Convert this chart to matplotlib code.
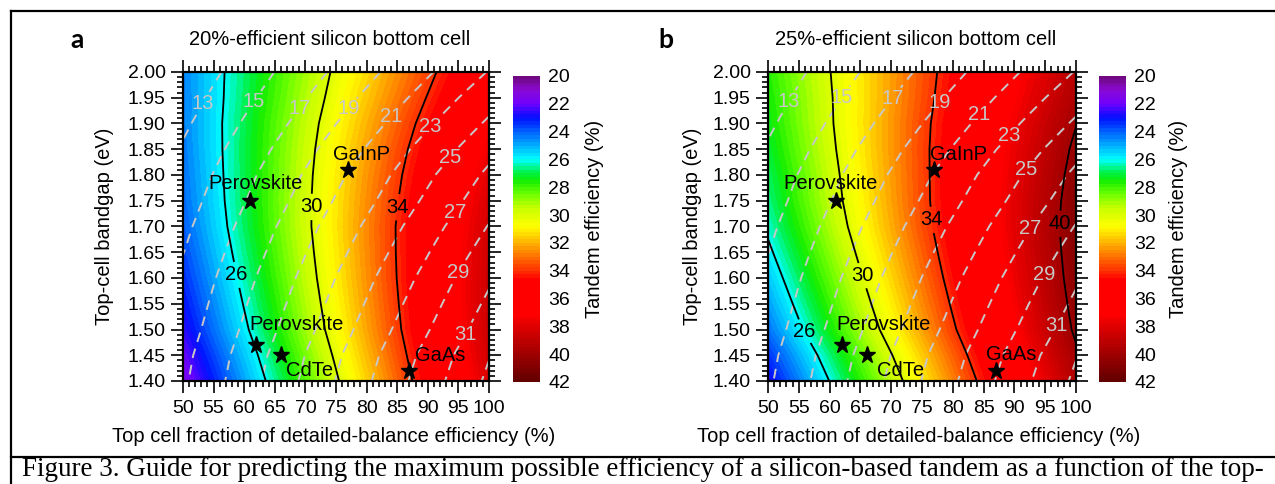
import numpy as np
import matplotlib
matplotlib.use("Agg")
import matplotlib.pyplot as plt
from matplotlib.colors import LinearSegmentedColormap
from matplotlib.ticker import MultipleLocator, FormatStrFormatter
from matplotlib.lines import Line2D

plt.rcParams['font.family'] = ['Liberation Sans', 'DejaVu Sans']

# ---------------- data ----------------
fraction_pct = [50, 75, 100]
bandgap_ev = [1.40, 1.45, 1.50, 1.55, 1.60, 1.65, 1.70, 1.75, 1.80, 1.85, 1.90, 1.95, 2.00]

# top-cell efficiency (%) (dashed grey contours)
top_cell_eff = [
    [16.70, 25.05, 33.40],
    [16.45, 24.68, 32.90],
    [16.05, 24.08, 32.10],
    [15.70, 23.55, 31.40],
    [15.35, 23.03, 30.70],
    [14.95, 22.43, 29.90],
    [14.55, 21.83, 29.10],
    [14.10, 21.15, 28.20],
    [13.70, 20.55, 27.40],
    [13.20, 19.80, 26.40],
    [12.65, 18.98, 25.30],
    [12.10, 18.15, 24.20],
    [11.55, 17.33, 23.10],
]

# tandem efficiency (%) with a 20%-efficient silicon bottom cell
tandem_si20 = [
    [21.48, 29.83, 38.18],
    [21.97, 30.20, 38.42],
    [22.55, 30.58, 38.60],
    [22.93, 30.78, 38.63],
    [23.28, 30.96, 38.63],
    [23.60, 31.08, 38.55],
    [23.89, 31.17, 38.44],
    [24.08, 31.13, 38.18],
    [24.19, 31.04, 37.89],
    [24.30, 30.90, 37.50],
    [24.38, 30.71, 37.03],
    [24.39, 30.44, 36.49],
    [24.43, 30.21, 35.98],
]

# tandem efficiency (%) with a 25%-efficient silicon bottom cell
tandem_si25 = [
    [22.68, 31.03, 39.38],
    [23.35, 31.58, 39.80],
    [24.18, 32.21, 40.23],
    [24.74, 32.59, 40.44],
    [25.26, 32.94, 40.61],
    [25.76, 33.24, 40.71],
    [26.23, 33.51, 40.78],
    [26.58, 33.63, 40.68],
    [26.81, 33.66, 40.51],
    [27.08, 33.68, 40.28],
    [27.31, 33.64, 39.96],
    [27.46, 33.51, 39.56],
    [27.65, 33.43, 39.20],
]

top_levels = [13, 15, 17, 19, 21, 23, 25, 27, 29, 31, 33]
top_label_levels = [13, 15, 17, 19, 21, 23, 25, 27, 29, 31]
tandem_levels_si20 = [26, 30, 34]
tandem_levels_si25 = [26, 30, 34, 40]

material_names = ['Perovskite', 'GaInP', 'Perovskite', 'CdTe', 'GaAs']
material_fraction = [61, 77, 62, 66, 87]
material_bandgap = [1.75, 1.81, 1.47, 1.45, 1.42]

panel_titles = ['20%-efficient silicon bottom cell', '25%-efficient silicon bottom cell']
panel_letters = ['a', 'b']
cbar_ticks = [20, 22, 24, 26, 28, 30, 32, 34, 36, 38, 40, 42]

caption = ("Figure 3. Guide for predicting the maximum possible efficiency of a "
           "silicon-based tandem as a function of the top-")

# ---------------- layout helpers ----------------
W, H = 1275, 484
fig = plt.figure(figsize=(W / 100, H / 100), dpi=100)


def rect(l, r, t, b):
    return [l / W, 1 - b / H, (r - l) / W, (b - t) / H]


def fpos(px, py):
    return px / W, 1 - py / H


# colormap like the reference (Origin-style rainbow)
stops = [(20.0, '#6c0a78'), (21.0, '#8a0ad2'), (22.0, '#7000ff'), (23.0, '#0010ff'),
         (24.0, '#0060ff'), (25.0, '#00b0ff'), (26.0, '#00ffff'), (27.0, '#00f040'),
         (27.5, '#10ee00'), (28.5, '#70ff00'), (29.5, '#c8ff00'), (30.8, '#ffff00'),
         (32.0, '#ffb400'), (33.0, '#ff7000'), (34.0, '#ff3000'), (34.6, '#ff0000'),
         (37.2, '#ff0000'), (38.0, '#e00000'), (40.0, '#a00000'), (42.0, '#600000')]
cmap = LinearSegmentedColormap.from_list(
    'tandem', [((v - 20) / 22, c) for v, c in stops], N=512)
fill_levels = np.arange(20, 42.001, 0.25)

X, Y = np.meshgrid(fraction_pct, bandgap_ev)
T = np.array(top_cell_eff)

panels = [
    dict(Z=np.array(tandem_si20), levels=tandem_levels_si20,
         ax=rect(183, 489, 72, 381), cax=rect(513, 540, 76, 382),
         letter_xy=(77, 40), ylabel_x=105, xlabel_xy=(334, 437), cbl_x=594,
         top_lab=[(52.8, 1.942), (61.8, 1.94), (68.8, 1.932), (77.3, 1.926), (84.3, 1.911),
                  (90.7, 1.891), (93.6, 1.835), (94.4, 1.728), (94.8, 1.612), (96.4, 1.489)],
         tan_lab=[(58.8, 1.606), (70.4, 1.738), (84.6, 1.738)],
         names_xy=[(61.8, 1.783), (79.2, 1.839), (68.5, 1.509), (70.7, 1.421), (92.0, 1.450)]),
    dict(Z=np.array(tandem_si25), levels=tandem_levels_si25,
         ax=rect(768, 1076, 72, 381), cax=rect(1099, 1126, 76, 382),
         letter_xy=(666, 40), ylabel_x=692, xlabel_xy=(919, 437), cbl_x=1178,
         top_lab=[(52.6, 1.948), (62.1, 1.95), (70.5, 1.947), (78.6, 1.934), (84.5, 1.915),
                  (89.3, 1.874), (92.6, 1.804), (92.6, 1.695), (94.7, 1.607), (96.6, 1.509)],
         tan_lab=[(55.4, 1.493), (65.2, 1.604), (76.9, 1.713), (97.7, 1.705)],
         names_xy=[(60.2, 1.783), (81.0, 1.839), (68.7, 1.509), (71.6, 1.421), (89.4, 1.452)]),
]

FS = 14.5      # labels, titles, annotations
FT = 14        # tick labels
grey = '#c8c8c8'

for i, p in enumerate(panels):
    ax = fig.add_axes(p['ax'])
    cf = ax.contourf(X, Y, p['Z'], levels=fill_levels, cmap=cmap, vmin=20, vmax=42,
                     antialiased=False)

    cs_top = ax.contour(X, Y, T, levels=top_levels, colors=grey, linewidths=1.4,
                        linestyles=[(0, (5.0, 3.6))])
    tl = ax.clabel(cs_top, levels=top_label_levels, manual=p['top_lab'], inline=True,
                   inline_spacing=2, fmt='%d', fontsize=FS, colors=grey)
    for t in tl:
        t.set_rotation(0)

    cs_tan = ax.contour(X, Y, p['Z'], levels=p['levels'], colors='k', linewidths=1.3)
    bl = ax.clabel(cs_tan, levels=p['levels'], manual=p['tan_lab'], inline=True,
                   inline_spacing=2, fmt='%d', fontsize=FS, colors='k')
    for t in bl:
        t.set_rotation(0)

    ax.plot(material_fraction, material_bandgap, ls='none', marker='*', ms=12.5,
            color='k', zorder=6)
    for name, (tx, ty) in zip(material_names, p['names_xy']):
        ax.text(tx, ty, name, ha='center', va='center', fontsize=FS, color='k', zorder=7)

    ax.set_xlim(50, 100)
    ax.set_ylim(1.40, 2.00)
    ax.xaxis.set_major_locator(MultipleLocator(5))
    ax.xaxis.set_minor_locator(MultipleLocator(1))
    ax.yaxis.set_major_locator(MultipleLocator(0.05))
    ax.yaxis.set_minor_locator(MultipleLocator(0.01))
    ax.yaxis.set_major_formatter(FormatStrFormatter('%.2f'))
    ax.xaxis.set_major_formatter(FormatStrFormatter('%d'))
    ax.tick_params(which='both', direction='out', top=True, right=True,
                   labeltop=False, labelright=False, width=1.2, color='k')
    ax.tick_params(which='major', length=8.5, labelsize=FT)
    ax.tick_params(axis='x', which='major', pad=5)
    ax.tick_params(axis='y', which='major', pad=4)
    ax.tick_params(which='minor', length=4.5)
    for s in ax.spines.values():
        s.set_linewidth(1.6)

    ax.text(0.48, 1.1036, panel_titles[i], transform=ax.transAxes, ha='center',
            va='center', fontsize=FS)
    lx, ly = fpos(*p['letter_xy'])
    fig.text(lx, ly, panel_letters[i], ha='center', va='center', fontsize=19,
             fontweight='bold', family=['Lato', 'DejaVu Sans'])
    yx, yy = fpos(p['ylabel_x'], 226)
    fig.text(yx, yy, 'Top-cell bandgap (eV)', rotation=90, ha='center', va='center',
             fontsize=FS)
    xx, xy = fpos(*p['xlabel_xy'])
    fig.text(xx, xy, 'Top cell fraction of detailed-balance efficiency (%)',
             ha='center', va='center', fontsize=FS)

    cax = fig.add_axes(p['cax'])
    cb = fig.colorbar(cf, cax=cax, ticks=cbar_ticks)
    cax.invert_yaxis()
    cb.outline.set_visible(False)
    cax.tick_params(length=0, labelsize=FT, pad=6)
    cax.yaxis.set_major_formatter(FormatStrFormatter('%d'))
    cx, cy = fpos(p['cbl_x'], 219)
    fig.text(cx, cy, 'Tandem efficiency (%)', rotation=90, ha='center', va='center',
             fontsize=FS)

# frame and caption
lw_frame = 1.6
fig.add_artist(Line2D([10.5 / W, 10.5 / W], [0, 1 - 11 / H], transform=fig.transFigure,
                      color='k', lw=lw_frame, solid_capstyle='projecting'))
fig.add_artist(Line2D([10.5 / W, 1], [1 - 11 / H, 1 - 11 / H], transform=fig.transFigure,
                      color='k', lw=lw_frame))
fig.add_artist(Line2D([10.5 / W, 1], [1 - 457 / H, 1 - 457 / H], transform=fig.transFigure,
                      color='k', lw=lw_frame))

cpx, cpy = fpos(22, 476.5)
ct = fig.text(cpx, cpy, caption, ha='left', va='baseline', fontsize=18,
              family=['Liberation Serif', 'DejaVu Serif'])
fig.canvas.draw()
bw = ct.get_window_extent().width
ct.set_fontsize(18 * 1243 / bw)

fig.savefig('out.png', dpi=100)
